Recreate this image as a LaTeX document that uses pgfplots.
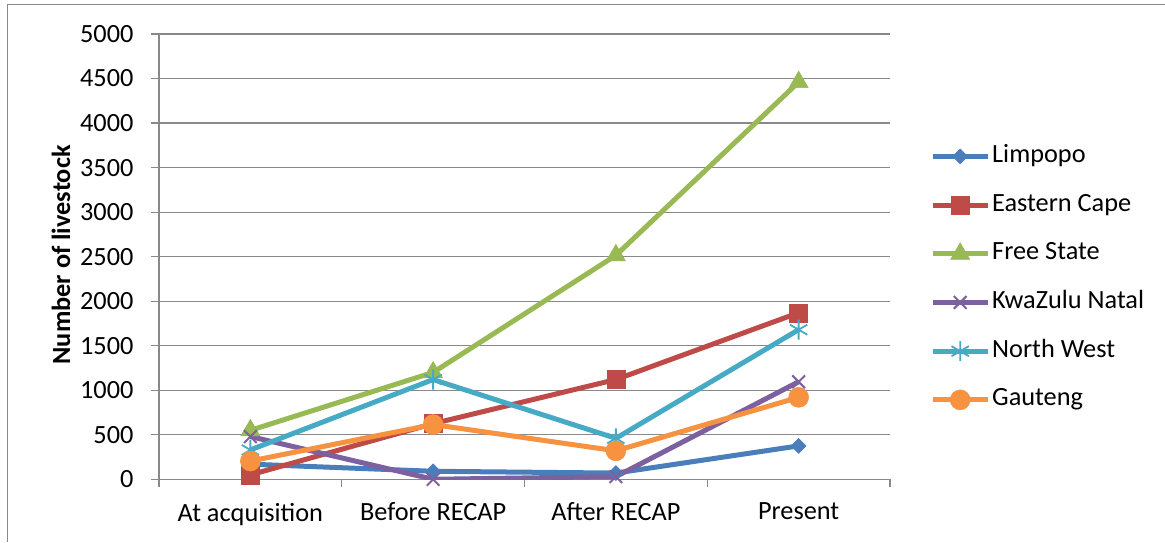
\documentclass[border=0pt]{standalone}
\usepackage{pgfplots}
\pgfplotsset{compat=1.18}
\usepackage{fontspec}
\setmainfont{Carlito}

\definecolor{cLim}{HTML}{4A7EBB}
\definecolor{cEC}{HTML}{BE4B48}
\definecolor{cFS}{HTML}{98B954}
\definecolor{cKZN}{HTML}{7D60A0}
\definecolor{cNW}{HTML}{46AAC5}
\definecolor{cGau}{HTML}{F69240}
\definecolor{gridgray}{HTML}{898989}

\begin{document}
\begin{tikzpicture}[x=1pt,y=1pt]
\useasboundingbox (0,0) rectangle (1165,542);
% chart frame (left and top edges)
\draw[gridgray,line width=1.2pt] (7.5,0) -- (7.5,537.5) -- (1165,537.5);

\begin{axis}[
  at={(159pt,62.7pt)}, anchor=south west,
  scale only axis, width=731pt, height=445.3pt,
  xmin=-0.5, xmax=3.5, ymin=0, ymax=5000,
  xtick={0,1,2,3},
  xticklabels={At acquisition,Before RECAP,After RECAP,Present},
  major x tick style={draw=none},
  minor xtick={-0.5,0.5,1.5,2.5,3.5},
  minor tick length=8pt,
  ytick={0,500,...,5000},
  major tick length=8pt,
  tick align=outside,
  axis x line*=bottom, axis y line*=left,
  axis line style={gridgray,line width=1.2pt,-},
  tick style={gridgray,line width=1.2pt},
  ymajorgrids,
  grid style={gridgray,line width=1.2pt},
  font=\fontsize{26.3}{30}\selectfont,
  /pgf/number format/assume math mode=true,
  /pgf/number format/set thousands separator={},
  yticklabel style={xshift=-14pt},
  xticklabel style={yshift=-12pt},
  ylabel={\bfseries Number of livestock},
  every axis y label/.style={at={(axis description cs:-0.134,0.504)},rotate=90,anchor=center},
  legend cell align=left,
  legend style={at={(axis description cs:1.0547,0.756)}, anchor=north west,
    draw=none, fill=none, inner sep=0pt, row sep=21.7pt,
    nodes={text height=17.5pt, text depth=5.5pt, inner sep=2pt},
    font=\fontsize{26.3}{30}\selectfont},
  legend image code/.code={%
    \draw[mark repeat=2,mark phase=2] plot coordinates {(0pt,0pt) (27.5pt,0pt) (55pt,0pt)};},
  every axis plot/.append style={line width=5pt},
]
\addplot[cLim, mark=diamond*, mark size=7.5pt, mark options={solid,xscale=1.33,line width=0.5pt}]
  coordinates {(0,170) (1,90) (2,70) (3,375)};
\addlegendentry{Limpopo}
\addplot[cEC, mark=square*, mark size=9pt, mark options={solid,line width=0.5pt}]
  coordinates {(0,50) (1,625) (2,1120) (3,1870)};
\addlegendentry{Eastern Cape}
\addplot[cFS, mark=triangle*, mark size=11pt, mark options={solid,line width=0.5pt}]
  coordinates {(0,550) (1,1200) (2,2515) (3,4460)};
\addlegendentry{Free State}
\addplot[cKZN, mark=x, mark size=9pt, mark options={solid,line width=2pt}]
  coordinates {(0,480) (1,0) (2,30) (3,1095)};
\addlegendentry{KwaZulu Natal}
\addplot[cNW, mark=asterisk, mark size=10pt, mark options={solid,line width=1.8pt}]
  coordinates {(0,330) (1,1120) (2,460) (3,1680)};
\addlegendentry{North West}
\addplot[cGau, mark=*, mark size=10pt, mark options={solid,line width=0.5pt}]
  coordinates {(0,205) (1,615) (2,320) (3,920)};
\addlegendentry{Gauteng}
\end{axis}
\end{tikzpicture}
\end{document}
